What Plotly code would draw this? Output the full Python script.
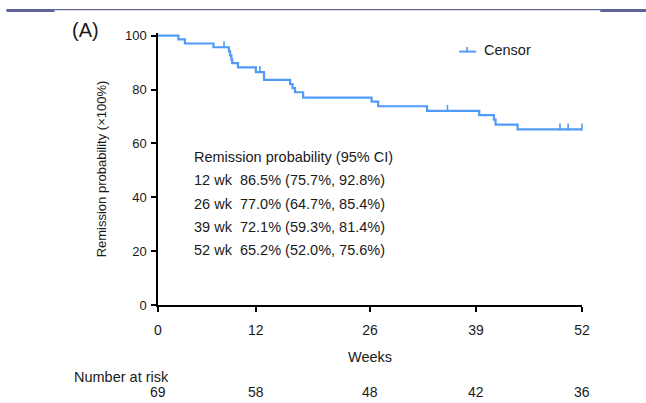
import plotly.graph_objects as go

# ---------------- data ----------------
weeks = [0, 2.5, 3.3, 6.8, 8.7, 8.85, 9.0, 9.1, 9.8, 12.0, 13.0, 16.2, 16.5, 16.8,
         17.8, 26.2, 27.0, 33.0, 39.4, 41.2, 41.4, 44.1, 52]
survival = [100, 98.6, 97.1, 95.7, 94.2, 92.7, 91.2, 89.8, 88.2, 86.5, 83.6, 82.0,
            80.5, 79.0, 77.0, 75.5, 73.8, 72.1, 70.5, 68.8, 67.0, 65.2, 65.2]
censor_weeks = [8.1, 12.5, 35.5, 49.3, 50.3, 52.0]
censor_surv = [95.7, 86.5, 72.1, 65.2, 65.2, 65.2]

ci_weeks = [12, 26, 39, 52]
ci_est = [86.5, 77.0, 72.1, 65.2]
ci_low = [75.7, 64.7, 59.3, 52.0]
ci_high = [92.8, 85.4, 81.4, 75.6]

tick_weeks = [0, 12, 26, 39, 52]
y_ticks = [0, 20, 40, 60, 80, 100]
at_risk = [69, 58, 48, 42, 36]

# ---------------- geometry ----------------
W_FIG, H_FIG = 646, 403
L, R = 158.3, 581.7
B = 305.0
PX_PER_UNIT = 2.692
YMAX = 101
T = B - PX_PER_UNIT * YMAX
PW, PH = R - L, B - T


def px2x(px):
    return (px - L) / PW


def py2y(py):
    return (B - py) / PH


BLUE = "#4f9bf7"
TXT = "#1a1a1a"
FONT = "Liberation Sans, Arial, sans-serif"
TS = 14.5

fig = go.Figure()

fig.add_trace(go.Scatter(
    x=weeks, y=survival, mode="lines", line=dict(color=BLUE, width=2.2, shape="hv"),
    showlegend=False, hoverinfo="skip"))

# censor ticks (vertical marks sitting on top of the curve)
tick_h = 5.0 / PX_PER_UNIT
fig.add_trace(go.Scatter(
    x=censor_weeks, y=[s + tick_h / 2 for s in censor_surv], mode="markers",
    marker=dict(symbol="line-ns", size=5, line=dict(color=BLUE, width=1.6)),
    cliponaxis=False, showlegend=False, hoverinfo="skip"))

shapes = []
annotations = []

# top decorative rule
RULE = "#5f6199"
shapes.append(dict(type="line", xref="paper", yref="paper", x0=px2x(7), x1=px2x(646),
                   y0=py2y(9.7), y1=py2y(9.7), line=dict(color=RULE, width=1.3)))
shapes.append(dict(type="line", xref="paper", yref="paper", x0=px2x(7), x1=px2x(55),
                   y0=py2y(10.8), y1=py2y(10.8), line=dict(color=RULE, width=2.4)))
shapes.append(dict(type="line", xref="paper", yref="paper", x0=px2x(600), x1=px2x(646),
                   y0=py2y(10.8), y1=py2y(10.8), line=dict(color=RULE, width=2.4)))

# manual legend "Censor"
shapes.append(dict(type="line", xref="paper", yref="paper", x0=px2x(459), x1=px2x(476),
                   y0=py2y(51.7), y1=py2y(51.7), line=dict(color=BLUE, width=2)))
shapes.append(dict(type="line", xref="paper", yref="paper", x0=px2x(467), x1=px2x(467),
                   y0=py2y(51.7), y1=py2y(47.2), line=dict(color=BLUE, width=1.6)))
annotations.append(dict(text="Censor", xref="paper", yref="paper", x=px2x(482), y=py2y(50),
                        xanchor="left", yanchor="middle", showarrow=False,
                        font=dict(size=TS, color=TXT, family=FONT)))

# panel label
annotations.append(dict(text="(A)", xref="paper", yref="paper", x=px2x(86), y=py2y(30),
                        xanchor="center", yanchor="middle", showarrow=False,
                        font=dict(size=20, color=TXT, family=FONT)))

# CI text block
ci_lines = ["Remission probability (95% CI)"] + [
    f"{w} wk  {e:.1f}% ({lo:.1f}%, {hi:.1f}%)"
    for w, e, lo, hi in zip(ci_weeks, ci_est, ci_low, ci_high)]
for i, line in enumerate(ci_lines):
    annotations.append(dict(text=line, xref="paper", yref="paper", x=px2x(192),
                            y=py2y(157 + 23.3 * i), xanchor="left", yanchor="middle",
                            showarrow=False, font=dict(size=TS, color=TXT, family=FONT)))

# number at risk
annotations.append(dict(text="Number at risk", xref="paper", yref="paper", x=px2x(72),
                        y=py2y(377), xanchor="left", yanchor="middle", showarrow=False,
                        font=dict(size=TS, color=TXT, family=FONT)))
for w, n in zip(tick_weeks, at_risk):
    annotations.append(dict(text=str(n), xref="x", yref="paper", x=w, y=py2y(392),
                            xanchor="center", yanchor="middle", showarrow=False,
                            font=dict(size=14, color=TXT, family=FONT)))

fig.update_layout(
    width=W_FIG, height=H_FIG,
    margin=dict(l=L, r=W_FIG - R, t=T, b=H_FIG - B, pad=0),
    paper_bgcolor="white", plot_bgcolor="white",
    font=dict(family=FONT, color=TXT, size=13),
    showlegend=False,
    shapes=shapes, annotations=annotations,
    xaxis=dict(range=[0, 52], tickvals=tick_weeks, ticktext=[str(t) for t in tick_weeks],
               showline=True, linecolor="black", linewidth=1.5, ticks="outside",
               ticklen=5, tickwidth=1.5, tickcolor="black", showgrid=False,
               zeroline=False, tickfont=dict(size=14), ticklabelstandoff=6,
               title=dict(text="Weeks", font=dict(size=TS))),
    yaxis=dict(range=[0, YMAX], tickvals=y_ticks, showline=True, linecolor="black",
               linewidth=1.5, ticks="outside", ticklen=5, tickwidth=1.5,
               tickcolor="black", showgrid=False, zeroline=False,
               tickfont=dict(size=13), ticklabelstandoff=2,
               title=dict(text="Remission probability (×100%)", font=dict(size=13))),
)

fig.write_html("out.html", config={"displayModeBar": False},
               post_script="document.body.style.margin='0';document.body.style.padding='0';")
